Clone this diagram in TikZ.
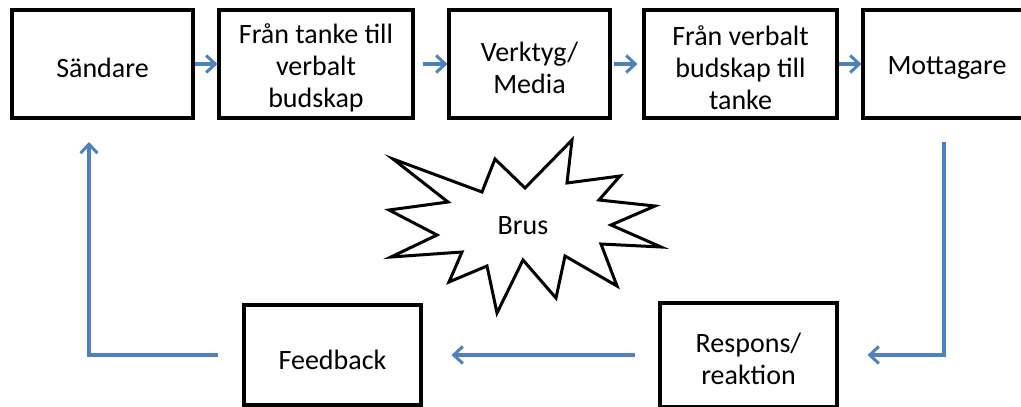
\documentclass[tikz,border=0pt]{standalone}
\usepackage{fontspec}
\setmainfont{Carlito}
\usetikzlibrary{arrows.meta}
\definecolor{flowblue}{RGB}{79,129,189}
\tikzset{
  stagebox/.style={draw=black, line width=3.2pt, fill=white, inner sep=0pt},
  stagetext/.style={align=center, inner sep=0pt, font=\fontsize{28}{32}\selectfont},
  flow/.style={draw=flowblue, line width=3.2pt,
    -{Straight Barb[length=9pt,width=17pt,line width=3pt]}},
}
\begin{document}
\begin{tikzpicture}[x=1pt,y=-1pt]
\clip (0,0) rectangle (1021,407);
\fill[white] (0,0) rectangle (1021,407);

% top row: the path of the message
\node[stagebox, minimum width=181pt, minimum height=108pt] (b1) at (102.5,64) {};
\node[stagebox, minimum width=194pt, minimum height=108pt] (b2) at (316,64) {};
\node[stagebox, minimum width=161pt, minimum height=108pt] (b3) at (529.5,64) {};
\node[stagebox, minimum width=193pt, minimum height=108pt] (b4) at (740.5,64) {};
\node[stagebox, minimum width=168pt, minimum height=108pt] (b5) at (947,64) {};
\node[stagetext] (t1) at ([yshift=-4pt]b1.center) {Sändare};
\node[stagetext] (t2) at ([yshift=-4pt]b2.center) {Från tanke till\\verbalt\\budskap};
\node[stagetext] (t3) at ([yshift=-4pt]b3.center) {Verktyg/\\Media};
\node[stagetext] (t4) at ([yshift=-4pt]b4.center) {Från verbalt\\budskap till\\tanke};
\node[stagetext] (t5) at ([yshift=-4pt]b5.center) {Mottagare};

% bottom row: the way back
\node[stagebox, minimum width=177pt, minimum height=104pt] (resp) at (748.5,355) {};
\node[stagebox, minimum width=177pt, minimum height=100pt] (fb) at (332.5,355) {};
\node[stagetext] (t6) at ([yshift=-4pt]resp.center) {Respons/\\reaktion};
\node[stagetext] (t7) at ([yshift=-5pt]fb.center) {Feedback};

% noise burst
\draw[line width=3pt, line join=miter, fill=white]
  (393,159) -- (482,192) -- (495,159) -- (525,188) -- (572,140) -- (567,183)
  -- (620,176) -- (599,200) -- (655,206) -- (611,225) -- (661,247) -- (601,244)
  -- (617,286) -- (565,256) -- (556,298) -- (523,260) -- (497,313) -- (487,266)
  -- (449,282) -- (462,252) -- (391,257) -- (437,235) -- (389,210) -- (448,202)
  -- cycle;
\node[stagetext] (brus) at (523,226) {Brus};

% connectors
\draw[flow] (b1.east) -- (b2.west);
\draw[flow, shorten <=8pt] (b2.east) -- (b3.west);
\draw[flow, shorten <=2pt, shorten >=5pt] (b3.east) -- (b4.west);
\draw[flow] (b4.east) -- (b5.west);

\coordinate (down) at (944,142);
\coordinate (up) at (89,142);
\draw[flow, line join=miter, shorten >=29pt] (down) |- (resp.east);
\draw[flow, shorten <=23pt, shorten >=29pt] (resp.west) -- (fb.east);
\draw[flow, line join=miter, shorten <=24pt] (fb.west) -| (up);
\end{tikzpicture}
\end{document}
